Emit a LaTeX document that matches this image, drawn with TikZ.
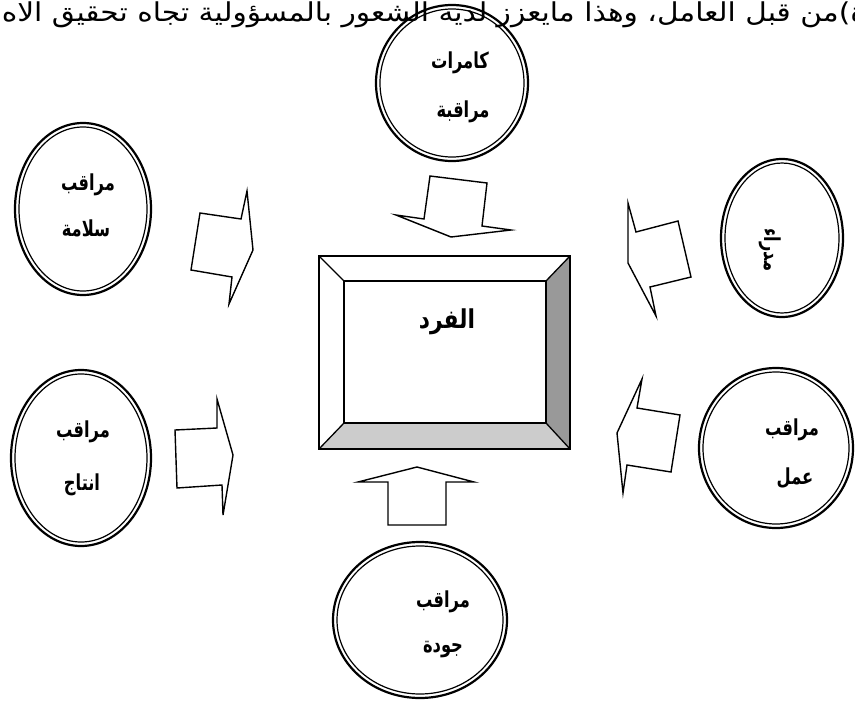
\documentclass[tikz,border=0pt]{standalone}
\usepackage{fontspec}
\TeXXeTstate=1
\newfontfamily\arabicfont[Script=Arabic]{DejaVu Sans}
\newcommand{\arlbl}[1]{\scalebox{0.74}[1]{\beginR #1\endR}}
\begin{document}
\begin{tikzpicture}[x=1pt,y=-1pt,
  outerring/.style={line width=2.2pt},
  innerring/.style={line width=1.2pt},
  blockarrow/.style={draw,line width=1.4pt,line join=miter,fill=white},
  lbl/.style={font=\arabicfont\bfseries\fontsize{22}{26}\selectfont,inner sep=0pt},
  bodytext/.style={font=\arabicfont\fontsize{26}{30}\selectfont,inner sep=0pt}
]
\useasboundingbox (0,0) rectangle (855,704);
\begin{scope}
\clip (0,0) rectangle (855,704);
\node[bodytext,anchor=base east] (body) at (866,21) {\scalebox{1.14}[1]{\beginR ة)من قبل العامل، وهذا مايعزز لديه الشعور بالمسؤولية تجاه تحقيق الاه\endR}};
\end{scope}

% ellipse centres
\coordinate (cTop) at (452,83);
\coordinate (cLT) at (83,209);
\coordinate (cRT) at (782,238);
\coordinate (cLB) at (81,458);
\coordinate (cRB) at (776,448);
\coordinate (cB) at (420,620);

\draw[outerring] (cTop) ellipse [x radius=76, y radius=78];
\draw[innerring] (cTop) ellipse [x radius=72, y radius=74];
\draw[outerring] (cLT) ellipse [x radius=68, y radius=86];
\draw[innerring] (cLT) ellipse [x radius=64, y radius=82];
\draw[outerring] (cRT) ellipse [x radius=61, y radius=79];
\draw[innerring] (cRT) ellipse [x radius=57, y radius=75];
\draw[outerring] (cLB) ellipse [x radius=70, y radius=88];
\draw[innerring] (cLB) ellipse [x radius=66, y radius=84];
\draw[outerring] (cRB) ellipse [x radius=77, y radius=80];
\draw[innerring] (cRB) ellipse [x radius=73, y radius=76];
\draw[outerring] (cB) ellipse [x radius=87, y radius=78];
\draw[innerring] (cB) ellipse [x radius=83, y radius=74];

% labels
\node[lbl] (t1) at (460,63) {\arlbl{كامرات}};
\node[lbl] (t2) at (463,112) {\arlbl{مراقبة}};
\node[lbl] (lt1) at (88,185) {\arlbl{مراقب}};
\node[lbl] (lt2) at (86,228) {\arlbl{سلامة}};
\node[lbl,rotate=-90] (rt1) at (770,250) {\arlbl{مدراء}};
\node[lbl] (lb1) at (83,432) {\arlbl{مراقب}};
\node[lbl] (lb2) at (82,485) {\arlbl{انتاج}};
\node[lbl] (rb1) at (792,430) {\arlbl{مراقب}};
\node[lbl] (rb2) at (795,478) {\arlbl{عمل}};
\node[lbl] (b1) at (443,602) {\arlbl{مراقب}};
\node[lbl] (b2) at (443,650) {\arlbl{جودة}};

% block arrows
\draw[blockarrow] (430,176) -- (487,183) -- (482,226) -- (511,230) -- (451,237) -- (396,215) -- (424,219) -- cycle;
\draw[blockarrow] (200,213) -- (241,219) -- (247,191) -- (253,250) -- (229,304) -- (232,277) -- (191,270) -- cycle;
\draw[blockarrow] (628,203) -- (636,232) -- (678,221) -- (691,277) -- (650,287) -- (656,316) -- (628,263) -- cycle;
\draw[blockarrow] (175,430) -- (217,428) -- (217,399) -- (233,455) -- (223,515) -- (222,485) -- (177,488) -- cycle;
\draw[blockarrow] (642,379) -- (637,408) -- (680,415) -- (671,472) -- (627,465) -- (623,493) -- (617,433) -- cycle;
\draw[blockarrow] (417,467) -- (474,482) -- (446,482) -- (446,525) -- (388,525) -- (388,482) -- (358,482) -- cycle;

% central bevel box
\coordinate (o1) at (319,256); \coordinate (o2) at (570,256);
\coordinate (o3) at (570,449); \coordinate (o4) at (319,449);
\coordinate (i1) at (344,281); \coordinate (i2) at (546,281);
\coordinate (i3) at (546,423); \coordinate (i4) at (344,423);
\fill[white] (o1) -- (o2) -- (o3) -- (o4) -- cycle;
\fill[black!40] (o2) -- (o3) -- (i3) -- (i2) -- cycle;
\fill[black!20] (o3) -- (o4) -- (i4) -- (i3) -- cycle;
\draw[line width=1.3pt,line join=miter] (o1) -- (o2) -- (o3) -- (o4) -- cycle;
\draw[line width=1.3pt] (i1) -- (i2) -- (i3) -- (i4) -- cycle;
\draw[line width=1.3pt] (o1) -- (i1) (o2) -- (i2) (o3) -- (i3) (o4) -- (i4);
\node[lbl,font=\arabicfont\bfseries\fontsize{26}{30}\selectfont] (fard) at (447,322) {\scalebox{0.84}[1]{\beginR الفرد\endR}};
\end{tikzpicture}
\end{document}
